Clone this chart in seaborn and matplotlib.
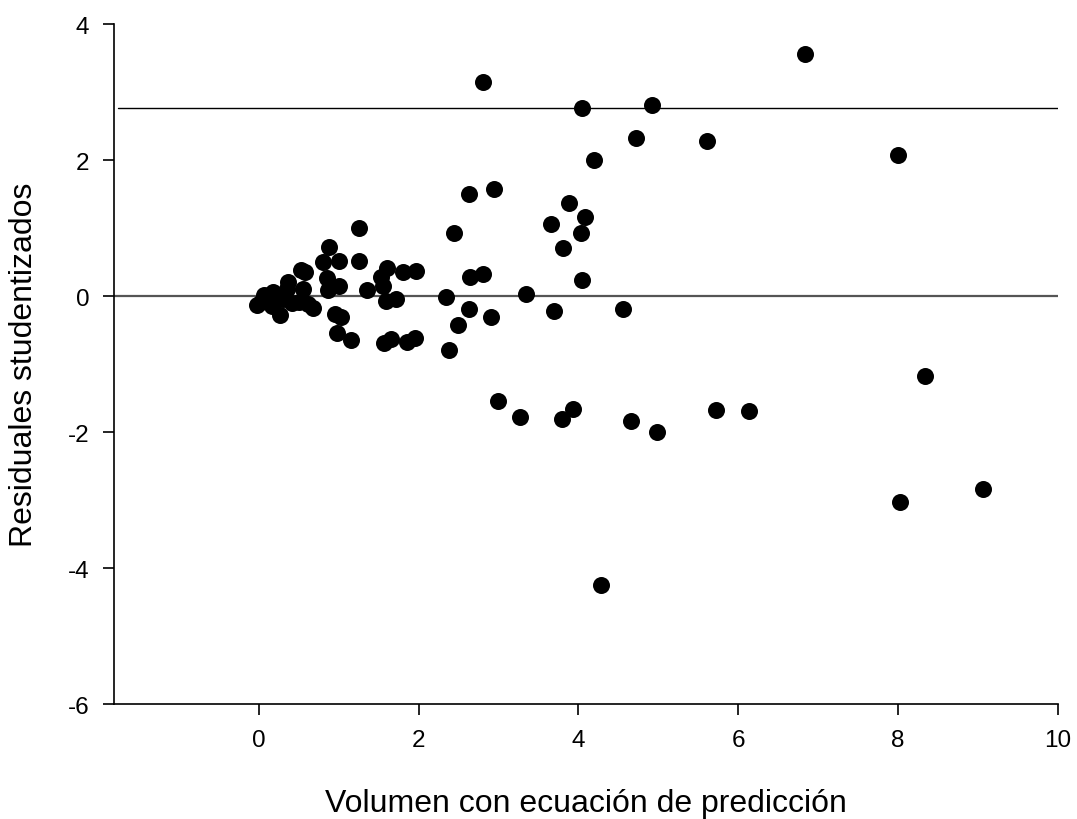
import matplotlib
matplotlib.use("Agg")
import matplotlib.pyplot as plt
import seaborn as sns
import pandas as pd

x_pred = [-0.02, 0.03, 0.07, 0.12, 0.16, 0.18, 0.22, 0.26, 0.30, 0.35, 0.36, 0.42, 0.50, 0.53, 0.55, 0.58, 0.62, 0.68,
          0.80, 0.86, 0.87, 0.88, 0.95, 0.98, 1.00, 1.00, 1.03, 1.16, 1.25, 1.25, 1.36,
          1.53, 1.55, 1.59, 1.60, 1.57, 1.65, 1.72, 1.80, 1.86, 1.95, 1.97,
          2.35, 2.38, 2.45, 2.49, 2.63, 2.63, 2.65, 2.81, 2.81, 2.91, 2.95, 2.99, 3.27, 3.35,
          3.66, 3.70, 3.79, 3.81, 3.88, 3.93, 4.04, 4.05, 4.05, 4.08, 4.20, 4.29, 4.56, 4.66, 4.72, 4.92, 4.99,
          5.61, 5.72, 6.14, 6.84, 8.00, 8.03, 8.34, 9.06]
resid = [-0.13, -0.08, 0.02, -0.05, -0.14, 0.06, -0.02, -0.28, -0.05, 0.10, 0.21, -0.10, -0.08, 0.38, 0.10, 0.35, -0.12, -0.17,
         0.50, 0.26, 0.09, 0.72, -0.26, -0.55, 0.51, 0.15, -0.31, -0.64, 1.00, 0.52, 0.09,
         0.28, 0.15, -0.07, 0.41, -0.69, -0.63, -0.04, 0.35, -0.68, -0.61, 0.37,
         -0.01, -0.79, 0.93, -0.43, 1.50, -0.19, 0.28, 0.32, 3.15, -0.31, 1.58, -1.54, -1.78, 0.03,
         1.06, -0.22, -1.81, 0.70, 1.37, -1.66, 0.93, 0.24, 2.76, 1.17, 2.00, -4.25, -0.19, -1.84, 2.32, 2.81, -2.00,
         2.28, -1.68, -1.69, 3.56, 2.08, -3.03, -1.18, -2.84]

ref_lines = [0.0, 2.77]
x_ticks = [0, 2, 4, 6, 8, 10]
y_ticks = [-6, -4, -2, 0, 2, 4]
x_label = "Volumen con ecuación de predicción"
y_label = "Residuales studentizados"

df = pd.DataFrame({"x": x_pred, "y": resid})

sns.set_theme(style="ticks")
plt.rcParams['font.family'] = ['Liberation Sans', 'DejaVu Sans']
plt.rcParams['axes.unicode_minus'] = False

fig = plt.figure(figsize=(10.77, 8.2), dpi=100)
ax = fig.add_axes([0.106, 0.140, 0.876, 0.8295])

ax.axhline(ref_lines[0], color="#555555", lw=1.6, zorder=1)
ax.axhline(ref_lines[1], xmin=0.004, color="black", lw=1.0, zorder=1)

sns.scatterplot(data=df, x="x", y="y", ax=ax, s=150, color="black",
                edgecolor="black", linewidth=0, zorder=3)

ax.set_xlim(-1.81, 10)
ax.set_ylim(-6, 4)
ax.set_xticks(x_ticks)
ax.set_yticks(y_ticks)
ax.set_xticklabels([str(v) for v in x_ticks])
ax.set_yticklabels([str(v) for v in y_ticks])
ax.tick_params(axis="both", direction="out", length=8, width=1.2, labelsize=17.5, colors="black", pad=10)
for s in ["top", "right"]:
    ax.spines[s].set_visible(False)
for s in ["left", "bottom"]:
    ax.spines[s].set_linewidth(1.2)
    ax.spines[s].set_color("black")

ax.set_xlabel(x_label, fontsize=23, color="black", va="center")
ax.xaxis.set_label_coords(0.5, -0.1456)
ax.set_ylabel(y_label, fontsize=23, color="black", va="center")
ax.yaxis.set_label_coords(-0.0953, 0.5)

fig.savefig("out.png", dpi=100)
